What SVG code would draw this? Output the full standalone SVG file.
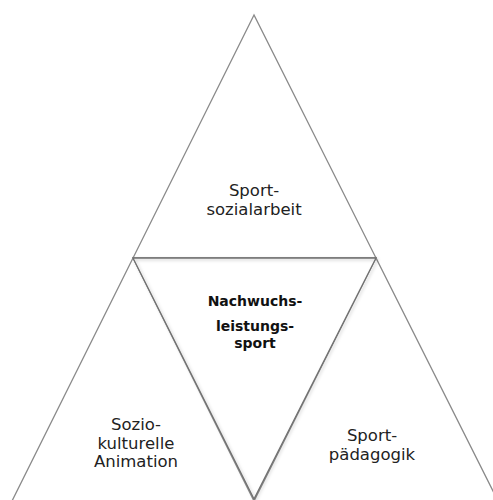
<svg xmlns="http://www.w3.org/2000/svg" width="493" height="500" viewBox="0 0 493 500">
  <style>
    .tri { fill: #ffffff; stroke: #8a8a8a; stroke-width: 1.3; stroke-linejoin: miter; }
    .mid { fill: none; stroke: #707070; stroke-width: 1.3; }
    .lbl { font-family: "DejaVu Sans", "Liberation Sans", sans-serif; font-size: 16.5px; fill: #222222; text-anchor: middle; }
    .core { font-family: "DejaVu Sans", "Liberation Sans", sans-serif; font-size: 14px; font-weight: bold; fill: #111111; text-anchor: middle; }
  </style>
  <defs>
    <filter id="soft" x="-10%" y="-10%" width="130%" height="130%">
      <feDropShadow dx="1.5" dy="1.5" stdDeviation="1.4" flood-color="#000000" flood-opacity="0.22"/>
    </filter>
  </defs>
  <rect width="493" height="500" fill="#ffffff"/>

  <g id="node-sportsozialarbeit">
    <polygon class="tri" points="254,15 133,258 376,258"/>
    <text class="lbl" x="254" y="196">Sport-</text>
    <text class="lbl" x="254" y="215">sozialarbeit</text>
  </g>

  <g id="node-soziokulturelle-animation">
    <polygon class="tri" points="133,258 12,501 254,501"/>
    <text class="lbl" x="136" y="430">Sozio-</text>
    <text class="lbl" x="136" y="449">kulturelle</text>
    <text class="lbl" x="136" y="467">Animation</text>
  </g>

  <g id="node-sportpaedagogik">
    <polygon class="tri" points="376,258 254,501 498,501"/>
    <text class="lbl" x="372" y="441">Sport-</text>
    <text class="lbl" x="372" y="460">pädagogik</text>
  </g>

  <g id="node-nachwuchsleistungssport">
    <polygon class="tri" points="133,258 376,258 254,499" style="stroke:none"/>
    <polygon class="mid" points="133,258 376,258 254,499" filter="url(#soft)"/>
    <text class="core" x="255" y="306">Nachwuchs-</text>
    <text class="core" x="255" y="331">leistungs-</text>
    <text class="core" x="255" y="348">sport</text>
  </g>

  <g id="connectors"></g>
</svg>
